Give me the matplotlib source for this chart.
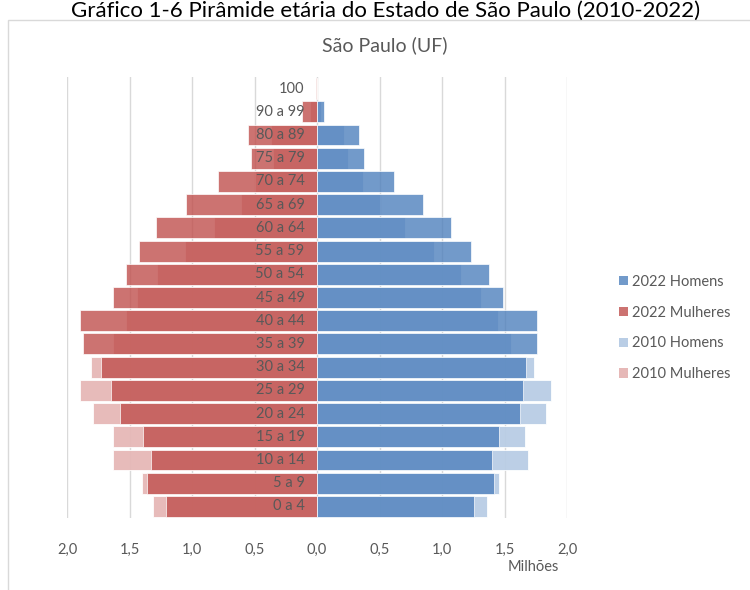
import matplotlib
matplotlib.use("Agg")
import matplotlib.pyplot as plt
from matplotlib.patches import Patch, Rectangle

plt.rcParams["font.family"] = ["Lato", "DejaVu Sans"]

# age groups, bottom to top
ages = ["0 a 4", "5 a 9", "10 a 14", "15 a 19", "20 a 24", "25 a 29", "30 a 34",
        "35 a 39", "40 a 44", "45 a 49", "50 a 54", "55 a 59", "60 a 64",
        "65 a 69", "70 a 74", "75 a 79", "80 a 89", "90 a 99", "100"]

# population in millions
women_2022 = [1.206, 1.358, 1.331, 1.392, 1.576, 1.650, 1.726, 1.870, 1.896, 1.630,
              1.528, 1.424, 1.288, 1.048, 0.790, 0.530, 0.550, 0.120, 0.005]
women_2010 = [1.310, 1.398, 1.630, 1.630, 1.795, 1.900, 1.810, 1.630, 1.526, 1.438,
              1.280, 1.056, 0.824, 0.606, 0.500, 0.355, 0.370, 0.054, 0.003]
men_2022 = [1.253, 1.413, 1.400, 1.458, 1.624, 1.650, 1.672, 1.760, 1.760, 1.485,
            1.378, 1.234, 1.069, 0.845, 0.613, 0.378, 0.338, 0.053, 0.003]
men_2010 = [1.362, 1.458, 1.685, 1.664, 1.834, 1.874, 1.738, 1.549, 1.448, 1.309,
            1.154, 0.933, 0.706, 0.500, 0.370, 0.250, 0.216, 0.035, 0.002]

x_ticks = [-2.0, -1.5, -1.0, -0.5, 0.0, 0.5, 1.0, 1.5, 2.0]

BLUE = "#4F81BD"
RED = "#C0504D"
BLUE_L = "#B9CDE5"
RED_L = "#E6B8B7"
GREY = "#595959"

W, H = 750, 590
fig = plt.figure(figsize=(W / 100, H / 100), dpi=100)
ax = fig.add_axes([67 / W, 1 - 518 / H, 500 / W, 441 / H])

y = list(range(len(ages)))

# 2010 underneath, 2022 semi-transparent on top
ax.barh(y, [-v for v in women_2010], height=0.9, color=RED_L, alpha=0.95,
        edgecolor="white", linewidth=0.6, zorder=2)
ax.barh(y, men_2010, height=0.9, color=BLUE_L, alpha=0.95,
        edgecolor="white", linewidth=0.6, zorder=2)
ax.barh(y, [-v for v in women_2022], height=0.9, color=RED, alpha=0.8,
        edgecolor="white", linewidth=0.6, zorder=3)
ax.barh(y, men_2022, height=0.9, color=BLUE, alpha=0.8,
        edgecolor="white", linewidth=0.6, zorder=3)

for yi, lab in zip(y, ages):
    ax.text(-0.1, yi, lab, ha="right", va="center", fontsize=10.5,
            color=GREY, zorder=5)

ax.set_xlim(-2, 2)
ax.set_ylim(-0.5, len(ages) - 0.5)
ax.set_xticks(x_ticks)
ax.set_xticklabels([f"{abs(t):.1f}".replace(".", ",") for t in x_ticks])
ax.tick_params(axis="x", length=0, pad=18, labelsize=10.5, labelcolor=GREY)
ax.set_yticks([])
for s in ax.spines.values():
    s.set_visible(False)
for t in x_ticks:
    ax.axvline(t, color="#D9D9D9", linewidth=1, zorder=1)

fig.text(533 / W, 1 - 567 / H, "Milhões", ha="center", va="center",
         fontsize=10.5, color=GREY)
fig.text(385 / W, 1 - 45 / H, "São Paulo (UF)", ha="center", va="center",
         fontsize=14, color=GREY)
fig.text(386 / W, 1 - 1 / H, "Gráfico 1-6 Pirâmide etária do Estado de São Paulo (2010-2022)",
         ha="center", va="top", fontsize=16, color="black")

fig.patches.append(Rectangle((7.5 / W, -0.05), 1.2, 1 - 20 / H + 0.05,
                             transform=fig.transFigure, fill=False,
                             edgecolor="#D9D9D9", linewidth=1))

handles = [Patch(facecolor=BLUE, alpha=0.8), Patch(facecolor=RED, alpha=0.8),
           Patch(facecolor=BLUE_L), Patch(facecolor=RED_L)]
labels = ["2022 Homens", "2022 Mulheres", "2010 Homens", "2010 Mulheres"]
leg = fig.legend(handles, labels, loc="center left",
                 bbox_to_anchor=(606 / W, 1 - 328 / H), frameon=False,
                 fontsize=10.5, handlelength=0.6, handleheight=0.6,
                 handletextpad=0.3, labelspacing=1.15)
for txt in leg.get_texts():
    txt.set_color(GREY)

fig.savefig("out.png", dpi=100)
